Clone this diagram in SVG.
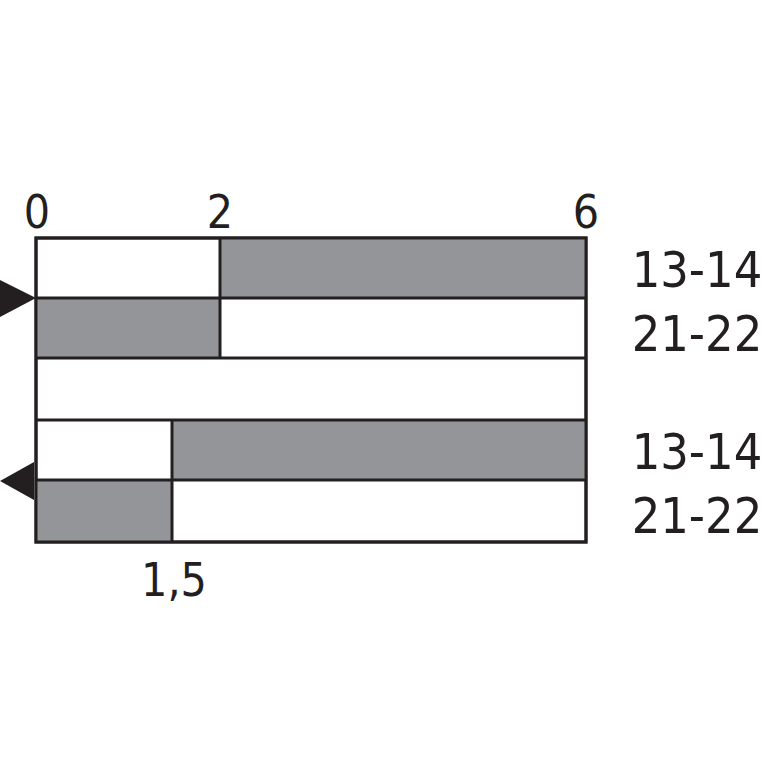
<svg xmlns="http://www.w3.org/2000/svg" width="767" height="767" viewBox="0 0 767 767">
<style>
.b{stroke:#231f20;stroke-width:3;fill:#fff}
.g{fill:#939598}
text{font-family:"DejaVu Sans Condensed","Liberation Sans",sans-serif;font-stretch:condensed;fill:#231f20}
.s{font-size:46px;text-anchor:middle}
.l{font-size:50px;text-anchor:middle}
</style>
<rect width="767" height="767" fill="#fff"/>
<g id="bars">
<rect class="b" x="36" y="238" width="550" height="304"/>
<rect class="g" x="220" y="238" width="366" height="60"/>
<rect class="g" x="36" y="298" width="184" height="60"/>
<rect class="g" x="172" y="420" width="414" height="60"/>
<rect class="g" x="36" y="480" width="136" height="62"/>
<rect x="36" y="238" width="550" height="304" fill="none" stroke="#231f20" stroke-width="3"/>
<path d="M36 298H586M36 358H586M36 420H586M36 480H586M220 238V358M172 420V542" stroke="#231f20" stroke-width="3" fill="none"/>
</g>
<g id="markers">
<polygon points="0,280 36,298 0,317" fill="#231f20"/>
<polygon points="34,462 0,481 34,500" fill="#231f20"/>
</g>
<g id="labels">
<text class="s" x="37" y="228">0</text>
<text class="s" x="220" y="228">2</text>
<text class="s" x="586" y="228">6</text>
<text class="s" x="174" y="596">1,5</text>
<text class="l" x="697" y="287">13-14</text>
<text class="l" x="697" y="351">21-22</text>
<text class="l" x="697" y="469">13-14</text>
<text class="l" x="697" y="533">21-22</text>
</g>
</svg>
